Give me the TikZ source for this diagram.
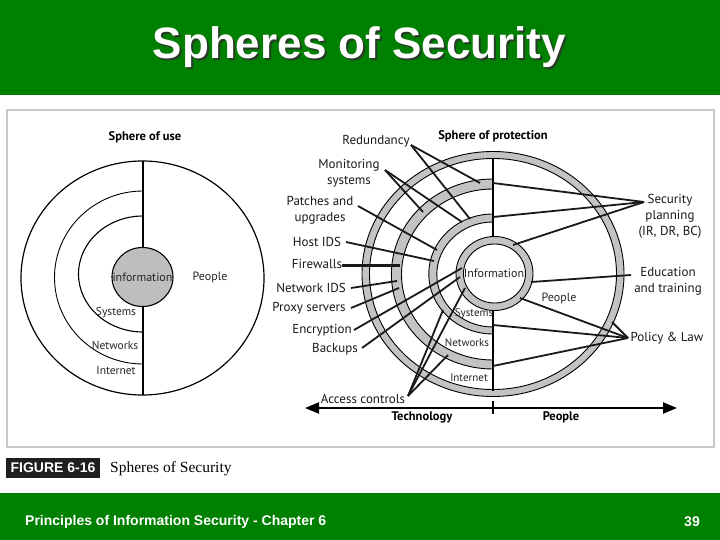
\documentclass[tikz,border=0pt]{standalone}
\usepackage{fontspec}
\setmainfont{PT Sans}
\newfontfamily\arialfont{Liberation Sans}
\newfontfamily\serifcap{Liberation Serif}
\usetikzlibrary{arrows.meta}
\definecolor{slidegreen}{RGB}{0,128,0}
\definecolor{ringgray}{RGB}{195,195,195}
\definecolor{boxgray}{RGB}{200,200,200}
\definecolor{infogray}{RGB}{190,190,190}
\definecolor{shadowgreen}{RGB}{40,60,40}
\begin{document}
\begin{tikzpicture}[x=1pt,y=-1pt,
  lbl/.style={font=\fontsize{13}{16}\selectfont, align=center, inner sep=0pt, text=black!90},
  small/.style={font=\fontsize{11.5}{13}\selectfont, inner sep=0pt, text=black!85},
  hdr/.style={font=\fontsize{12.5}{14}\selectfont\bfseries, inner sep=0pt, text=black},
  conn/.style={line width=1.8pt, black!90},
  band/.style={fill=ringgray, draw=black, line width=0.9pt},
  thinline/.style={line width=0.9pt, black},
]
\useasboundingbox (0,0) rectangle (720,540);
\fill[white] (0,0) rectangle (720,540);
% title and footer bars
\fill[slidegreen] (0,0) rectangle (720,95);
\fill[slidegreen] (0,493) rectangle (720,540);
\node[text=shadowgreen, font=\arialfont\bfseries\fontsize{44}{48}\selectfont, inner sep=0pt] (titleshadow) at (361.5,49.5) {Spheres of Security};
\node[text=white, font=\arialfont\bfseries\fontsize{44}{48}\selectfont, inner sep=0pt] (title) at (359.5,47.5) {Spheres of Security};
\node[anchor=west, text=white, font=\arialfont\bfseries\fontsize{14}{16}\selectfont, inner sep=0pt] (footer) at (25,522) {Principles of Information Security - Chapter 6};
\node[anchor=east, text=white, font=\arialfont\bfseries\fontsize{14}{16}\selectfont, inner sep=0pt] (pagenum) at (700,522) {39};
% figure frame
\draw[boxgray, line width=1.5pt] (7,110) rectangle (714,447);
\node[fill=black!88, text=white, font=\arialfont\bfseries\fontsize{14}{16}\selectfont, minimum width=94pt, minimum height=20pt, inner sep=0pt] (figtag) at (53,468) {FIGURE 6-16};
\node[anchor=west, font=\serifcap\fontsize{15.5}{18}\selectfont, inner sep=0pt] (figcap) at (110,469) {Spheres of Security};

% ---------- Sphere of use ----------
\node[hdr] (useh) at (145,137) {Sphere of use};
\draw[line width=1.6pt] (143,161) -- (143,395);
\draw[line width=1.2pt] (142.5,278) ellipse[x radius=121.5, y radius=117];
\draw[thinline] (143,191) arc[start angle=270, end angle=90, x radius=88.5, y radius=86.5];
\draw[line width=1.1pt] (143,216) arc[start angle=270, end angle=90, x radius=64.5, y radius=58];
\filldraw[fill=infogray, draw=black, line width=1.1pt] (142.5,277) ellipse[x radius=30.5, y radius=29.5];
\node[small, font=\fontsize{12}{13}\selectfont] (useinfo) at (142.5,277) {information};
\node[small, font=\fontsize{12}{13}\selectfont] (usepeople) at (210,277) {People};
\node[small] (usesys) at (116,313) {Systems};
\node[small] (usenet) at (115,345) {Networks};
\node[small] (useint) at (116,371) {Internet};

% ---------- Sphere of protection ----------
\node[hdr] (proth) at (493,136) {Sphere of protection};
% outer full ring
\filldraw[band, even odd rule] (493,274) ellipse[x radius=131, y radius=122.5] (493,274) ellipse[x radius=123.5, y radius=115.5];
% second ring (left half)
\filldraw[band] (493,179) arc[start angle=270, end angle=90, x radius=101.6, y radius=95] -- (493,360) arc[start angle=90, end angle=270, x radius=91.5, y radius=85.5] -- cycle;
% third ring (left half)
\filldraw[band] (493,214) arc[start angle=270, end angle=90, x radius=64.2, y radius=60] -- (493,327) arc[start angle=90, end angle=270, x radius=56.2, y radius=52.5] -- cycle;
% vertical divider
\draw[line width=1.4pt] (493,158) -- (493,237);
\draw[line width=1.4pt] (493,310) -- (493,391);
% information ring
\filldraw[band, even odd rule] (494.5,273.5) ellipse[x radius=38.5, y radius=37] (494.5,273.5) ellipse[x radius=31, y radius=29.5];
\node[small, font=\fontsize{12}{13}\selectfont] (protinfo) at (494,273) {Information};
\node[small, font=\fontsize{12}{13}\selectfont] (protpeople) at (559,298) {People};
\node[small, font=\fontsize{11}{12}\selectfont] (protsys) at (474,314) {Systems};
\node[small, font=\fontsize{11}{12}\selectfont] (protnet) at (467,343) {Networks};
\node[small, font=\fontsize{11}{12}\selectfont] (protint) at (469,378) {Internet};

% axis
\draw[line width=2.5pt, {Triangle[length=14pt,width=11pt]}-{Triangle[length=14pt,width=11pt]}] (305,408) coordinate (axl) -- (677,408) coordinate (axr);
\draw[line width=2pt] (493,401) coordinate (ticka) -- (493,414) coordinate (tickb);
\node[hdr] (tech) at (422,417) {Technology};
\node[hdr] (peopleax) at (561,417) {People};

% left labels
\node[lbl] (redundancy) at (376,141) {Redundancy};
\node[lbl] (monitoring) at (349,173) {Monitoring\\systems};
\node[lbl] (patches) at (320,210) {Patches and\\upgrades};
\node[lbl] (hostids) at (317,242) {Host IDS};
\node[lbl] (firewalls) at (317,264) {Firewalls};
\node[lbl] (netids) at (311,288) {Network IDS};
\node[lbl] (proxy) at (309,308) {Proxy servers};
\node[lbl] (encryption) at (322,330) {Encryption};
\node[lbl] (backups) at (335,349) {Backups};
\node[lbl] (access) at (363,399) {Access controls};

% right labels
\node[lbl] (secplan) at (670,216) {Security\\planning\\(IR, DR, BC)};
\node[lbl] (education) at (668,281) {Education\\and training};
\node[lbl] (policy) at (667,338) {Policy \& Law};

% connector start points
\coordinate (redS) at (411,145);
\coordinate (monS) at (385,170);
\coordinate (patS) at (358,206);
\coordinate (hostS) at (346,242);
\coordinate (fireS) at (342,265);
\coordinate (nidsS) at (351,288);
\coordinate (proxS) at (351,308);
\coordinate (encS) at (354,330);
\coordinate (backS) at (362,348);
\coordinate (accS) at (408,396);
\coordinate (secS) at (644,202);
\coordinate (eduS) at (631,275);
\coordinate (polS) at (628,338);

% connector end points on rings
\coordinate (redE1) at (480,183);
\coordinate (redE2) at (470,219);
\coordinate (monE1) at (423,212);
\coordinate (monE2) at (462,222);
\coordinate (patE) at (437,250);
\coordinate (hostE) at (434,261);
\coordinate (fireE) at (400,265);
\coordinate (nidsE) at (397,281);
\coordinate (proxE) at (399,288);
\coordinate (encE) at (462,268);
\coordinate (backE) at (460,277);
\coordinate (accE1) at (443,310);
\coordinate (accE2) at (465,288);
\coordinate (accE3) at (448,355);
\coordinate (secE1) at (493,183);
\coordinate (secE2) at (493,217);
\coordinate (secE3) at (513,245);
\coordinate (eduE) at (531,282);
\coordinate (polE1) at (520,298);
\coordinate (polE2) at (493,325);
\coordinate (polE3) at (493,366);
\coordinate (polE4) at (612,322);

\draw[conn] (redS) -- (redE1);
\draw[conn] (redS) -- (redE2);
\draw[conn] (monS) -- (monE1);
\draw[conn] (monS) -- (monE2);
\draw[conn] (patS) -- (patE);
\draw[conn] (hostS) -- (hostE);
\draw[conn, line width=3pt] (fireS) -- (fireE);
\draw[conn] (nidsS) -- (nidsE);
\draw[conn] (proxS) -- (proxE);
\draw[conn] (encS) -- (encE);
\draw[conn] (backS) -- (backE);
\draw[conn] (accS) -- (accE1);
\draw[conn] (accS) -- (accE2);
\draw[conn] (accS) -- (accE3);
\draw[conn] (secS) -- (secE1);
\draw[conn] (secS) -- (secE2);
\draw[conn] (secS) -- (secE3);
\draw[conn] (eduS) -- (eduE);
\draw[conn] (polS) -- (polE1);
\draw[conn] (polS) -- (polE2);
\draw[conn] (polS) -- (polE3);
\draw[conn] (polS) -- (polE4);
\end{tikzpicture}
\end{document}
